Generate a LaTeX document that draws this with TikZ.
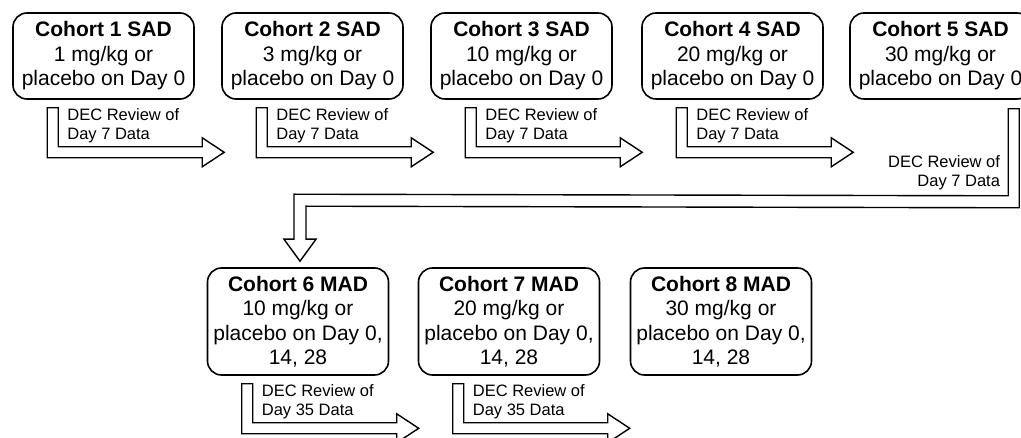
\documentclass[tikz,border=0pt]{standalone}
\usepackage{fontspec}
\setmainfont{Liberation Sans}
\usetikzlibrary{calc}
\tikzset{
  cohort/.style={draw, line width=1.6pt, rounded corners=14pt, align=center,
    minimum width=181pt, inner sep=2pt, font=\fontsize{21}{24.5}\selectfont},
  review/.style={inner sep=0pt, font=\fontsize{16.5}{19}\selectfont},
  hollow/.style={draw, line width=1.4pt, line join=miter},
}
\begin{document}
\begin{tikzpicture}[x=1pt,y=-1pt]
  \clip (0,0) rectangle (1021,438);

  \node[cohort, minimum height=86pt] (sad1) at (103.5,56) {\textbf{Cohort 1 SAD}\\1 mg/kg or\\placebo on Day 0};
  \node[cohort, minimum height=86pt] (sad2) at (312.5,56) {\textbf{Cohort 2 SAD}\\3 mg/kg or\\placebo on Day 0};
  \node[cohort, minimum height=86pt] (sad3) at (521.5,56) {\textbf{Cohort 3 SAD}\\10 mg/kg or\\placebo on Day 0};
  \node[cohort, minimum height=86pt] (sad4) at (732.5,56) {\textbf{Cohort 4 SAD}\\20 mg/kg or\\placebo on Day 0};
  \node[cohort, minimum height=86pt] (sad5) at (940.5,56) {\textbf{Cohort 5 SAD}\\30 mg/kg or\\placebo on Day 0};
  \node[cohort, minimum height=107pt] (mad6) at (298,321.5) {\textbf{Cohort 6 MAD}\\10 mg/kg or\\placebo on Day 0,\\14, 28};
  \node[cohort, minimum height=107pt] (mad7) at (509,321.5) {\textbf{Cohort 7 MAD}\\20 mg/kg or\\placebo on Day 0,\\14, 28};
  \node[cohort, minimum height=107pt] (mad8) at (721,321.5) {\textbf{Cohort 8 MAD}\\30 mg/kg or\\placebo on Day 0,\\14, 28};

  % review arrows between cohorts
  \foreach \c/\d in {sad1/7, sad2/7, sad3/7, sad4/7, mad6/35, mad7/35} {
    \draw[hollow] ($(\c.south west)+(35,8)$) -- ++(11,0) -- ++(0,39) -- ++(144,0)
      -- ++(0,-9) -- ++(22,14.5) -- ++(-22,14.5) -- ++(0,-9) -- ++(-155,0) -- cycle;
    \node[review, anchor=west, align=left] (rev-\c) at ($(\c.south west)+(55,25.5)$) {DEC Review of\\Day \d\ Data};
  }

  % from SAD to MAD
  \draw[hollow] ($(sad5.south west)+(159,9)$) -- ($(sad5.south west)+(170,9)$)
    -- ($(sad5.south west)+(170,108)$) -- ($(mad6.north)+(8,-61)$)
    -- ($(mad6.north)+(8,-28)$) -- ($(mad6.north)+(18,-28)$)
    -- ($(mad6.north)+(2,-6)$) -- ($(mad6.north)+(-14,-28)$)
    -- ($(mad6.north)+(-4,-28)$) -- ($(mad6.north)+(-4,-73)$)
    -- ($(sad5.south west)+(159,96)$) -- cycle;
  \node[review, anchor=east, align=right] (rev-sad5) at ($(sad5.south west)+(151,73)$) {DEC Review of\\Day 7 Data};
\end{tikzpicture}
\end{document}
